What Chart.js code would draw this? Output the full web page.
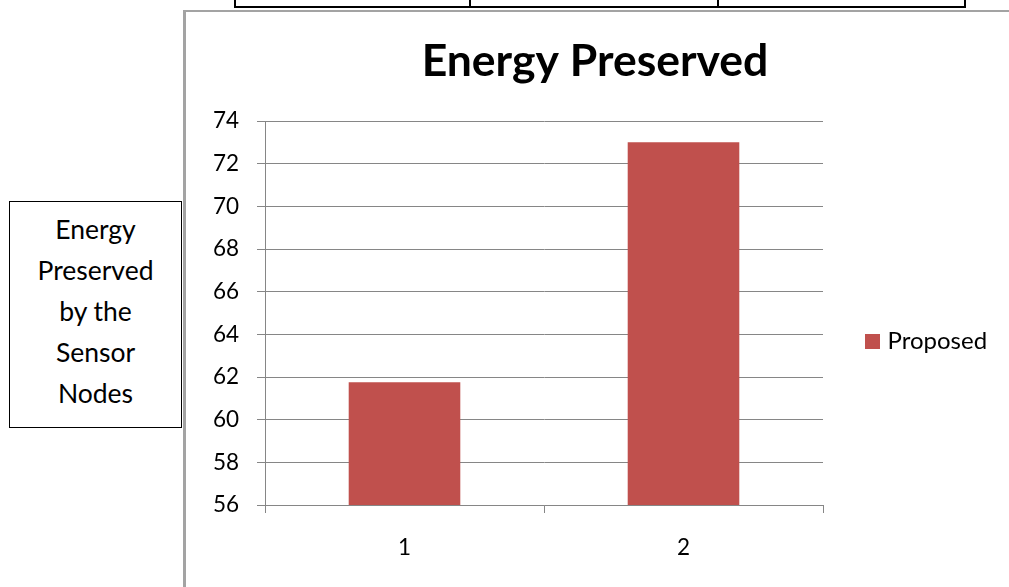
<!DOCTYPE html>
<html>
<head>
<meta charset="utf-8">
<script src="https://cdn.jsdelivr.net/npm/chart.js@4.4.1/dist/chart.umd.min.js"></script>
<style>
  html, body { margin: 0; padding: 0; background: #fff; }
  body { width: 1009px; height: 587px; position: relative; overflow: hidden; font-family: Lato, "Open Sans", sans-serif; }
  .tbl-v { position: absolute; top: 0; width: 2px; height: 8px; background: #000; }
  .tbl-h { position: absolute; top: 6px; left: 234px; width: 732px; height: 2px; background: #000; }
  .frame { position: absolute; left: 183px; top: 10px; width: 840px; height: 600px;
           border-left: 3px solid #a3a3a3; border-top: 2px solid #a3a3a3; }
  .note { position: absolute; left: 9px; top: 201px; width: 173px; height: 227px; box-sizing: border-box;
          border: 1px solid #000; padding-top: 7px; text-align: center; color: #000;
          font-size: 26.5px; line-height: 41px; }
  #chart { position: absolute; left: 0; top: 0; }
</style>
</head>
<body>
<div class="tbl-v" style="left:234px"></div>
<div class="tbl-v" style="left:469px"></div>
<div class="tbl-v" style="left:717px"></div>
<div class="tbl-v" style="left:964px"></div>
<div class="tbl-h"></div>
<div class="frame"></div>
<div class="note">Energy<br>Preserved<br>by the<br>Sensor<br>Nodes</div>
<canvas id="chart" width="1009" height="587"></canvas>
<script>
// Chart content
const titleText = 'Energy Preserved';
const categories = ['1', '2'];
const seriesName = 'Proposed';
const proposedValues = [61.75, 73];
const yMin = 56;
const yMax = 74;
const yStep = 2;

const barColor = '#C0504D';
const axisGray = '#868686';

// Legend drawn beside the plot: one square key and its label
const sideLegend = {
  id: 'sideLegend',
  afterDraw(chart, args, opts) {
    const ctx = chart.ctx;
    const area = chart.chartArea;
    ctx.save();
    chart.data.datasets.forEach((ds, i) => {
      const cy = opts.centerY + i * opts.rowGap;
      const x = area.right + opts.offsetX;
      ctx.fillStyle = ds.backgroundColor;
      ctx.fillRect(x, cy - opts.box / 2, opts.box, opts.box);
      ctx.fillStyle = '#000';
      ctx.font = opts.fontSize + 'px Lato, "Open Sans", sans-serif';
      ctx.textAlign = 'left';
      ctx.textBaseline = 'middle';
      ctx.fillText(ds.label, x + opts.box + opts.gap, cy);
    });
    ctx.restore();
  }
};

new Chart(document.getElementById('chart'), {
  type: 'bar',
  data: {
    labels: categories,
    datasets: [{
      label: seriesName,
      data: proposedValues,
      backgroundColor: barColor,
      borderWidth: 0,
      barPercentage: 0.4,
      categoryPercentage: 1.0
    }]
  },
  options: {
    responsive: false,
    animation: false,
    devicePixelRatio: 1,
    layout: { padding: { left: 181, right: 0, top: 12, bottom: 0 } },
    plugins: {
      legend: { display: false },
      tooltip: { enabled: false },
      title: {
        display: true,
        text: titleText,
        color: '#000',
        font: { family: 'Lato', size: 44.5, weight: 'bold', lineHeight: 1.2 },
        padding: { top: 23.3, bottom: 32.3 }
      },
      sideLegend: { offsetX: 42, centerY: 341.5, box: 15, gap: 7.5, fontSize: 24, rowGap: 30 }
    },
    scales: {
      x: {
        afterFit(s) { s.height = 82; },
        grid: { display: true, drawOnChartArea: false, drawTicks: true, tickLength: 8, color: axisGray, lineWidth: 1 },
        border: { display: true, color: axisGray, width: 1 },
        ticks: { color: '#000', padding: 21, font: { family: 'Lato', size: 22.5 } }
      },
      y: {
        min: yMin,
        max: yMax,
        afterFit(s) { s.width = 84; },
        grid: { display: true, drawTicks: true, tickLength: 8, color: axisGray, lineWidth: 1 },
        border: { display: true, color: axisGray, width: 1 },
        ticks: { stepSize: yStep, color: '#000', padding: 18, font: { family: 'Lato', size: 22.5 } }
      },
      legendSpace: {
        type: 'linear',
        position: 'right',
        display: true,
        afterFit(s) { s.width = 186; },
        grid: { display: false },
        border: { display: false },
        ticks: { display: false }
      }
    }
  },
  plugins: [sideLegend]
});
</script>
</body>
</html>
